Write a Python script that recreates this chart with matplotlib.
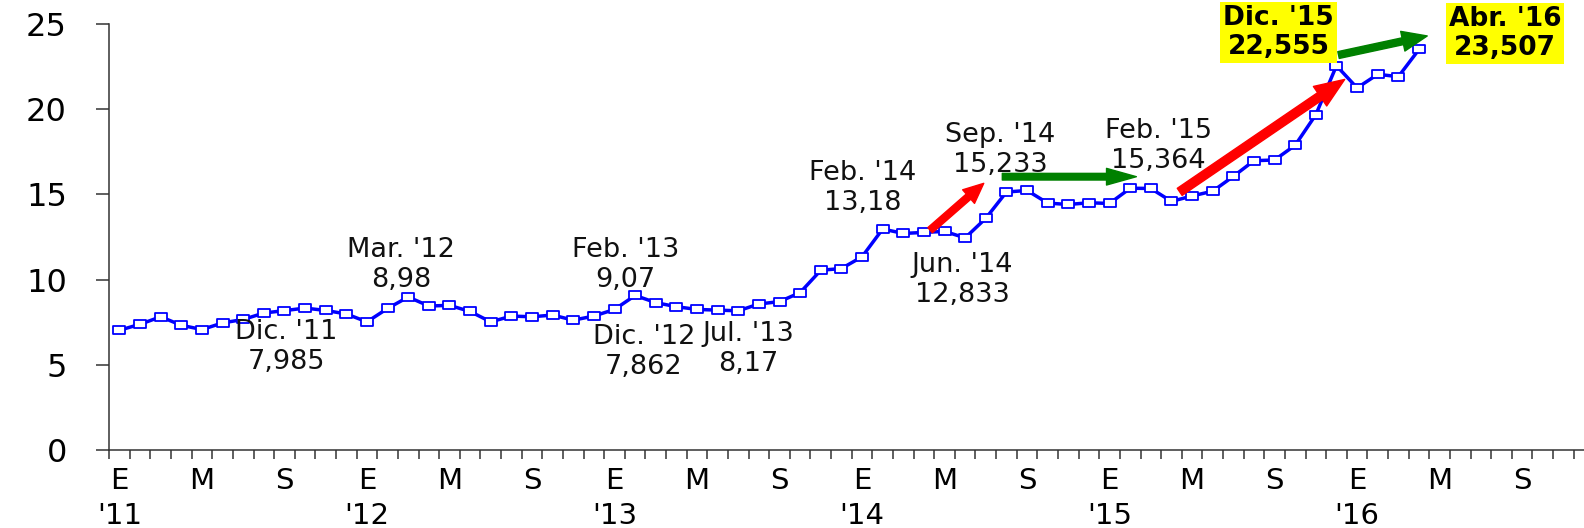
import numpy as np
import matplotlib.pyplot as plt
from matplotlib.path import Path
from matplotlib.patches import FancyArrowPatch

# monthly series, Jan 2011 .. Apr 2016
values = [7.03, 7.38, 7.82, 7.32, 7.07, 7.46, 7.66, 8.04, 8.18, 8.33, 8.19, 7.985,
          7.52, 8.31, 8.98, 8.45, 8.49, 8.13, 7.52, 7.86, 7.82, 7.92, 7.62, 7.862,
          8.25, 9.07, 8.65, 8.41, 8.25, 8.21, 8.17, 8.57, 8.71, 9.24, 10.55, 10.65,
          11.34, 12.97, 12.71, 12.77, 12.83, 12.45, 13.60, 15.14, 15.233, 14.49, 14.41, 14.51,
          14.47, 15.364, 15.35, 14.59, 14.91, 15.19, 16.06, 16.98, 17.02, 17.89, 19.68, 22.555,
          21.25, 22.05, 21.91, 23.507]
month_labels = ['E', 'M', 'S']
year_labels = ["'11", "'12", "'13", "'14", "'15", "'16"]

# annotated points: month index, text
notes_idx = [11, 14, 23, 25, 30, 37, 41, 44, 49]
notes_txt = ["Dic. '11\n7,985", "Mar. '12\n8,98", "Dic. '12\n7,862", "Feb. '13\n9,07",
             "Jul. '13\n8,17", "Feb. '14\n13,18", "Jun. '14\n12,833", "Sep. '14\n15,233",
             "Feb. '15\n15,364"]
notes_off = [(-60, -33), (-7, 32), (50, -36), (-10, 30), (10, -38), (-20, 41), (-3, -42),
             (-27, 40), (28, 42)]

boxes_idx = [59, 63]
boxes_txt = ["Dic. '15\n22,555", "Abr. '16\n23,507"]
boxes_off = [(-58, 33), (86, 16)]

# arrows: (x0, y0, x1, y1)
arrows = [(39.3, 12.9, 41.9, 15.65), (42.8, 16.04, 49.3, 16.04),
          (51.4, 15.15, 59.4, 21.75), (59.1, 23.18, 63.4, 24.3)]
arrow_colors = ['#ff0000', '#008000', '#ff0000', '#008000']
arrow_styles = ['simple,head_length=1.45,head_width=1.3,tail_width=0.5',
                'simple,head_length=2.15,head_width=1.2,tail_width=0.48',
                'simple,head_length=2.15,head_width=1.7,tail_width=0.62',
                'simple,head_length=1.8,head_width=1.45,tail_width=0.5']

plt.rcParams['font.family'] = ['DejaVu Sans']

fig = plt.figure(figsize=(15.84, 5.28), dpi=100)
ax = fig.add_axes([0.0689, 0.1477, 0.9311, 0.8068])

x = np.arange(len(values))
rect = Path([(-1.6, -1), (1.6, -1), (1.6, 1), (-1.6, 1), (-1.6, -1)],
            [Path.MOVETO, Path.LINETO, Path.LINETO, Path.LINETO, Path.CLOSEPOLY])
ax.plot(x, values, color='#0000ff', lw=2.5, marker=rect, ms=9, mfc='white',
        mec='#0000ff', mew=1.3, zorder=3, clip_on=False)

for (x0, y0, x1, y1), c, st in zip(arrows, arrow_colors, arrow_styles):
    ax.add_patch(FancyArrowPatch((x0, y0), (x1, y1), arrowstyle=st, mutation_scale=10,
                                 color=c, shrinkA=0, shrinkB=0, zorder=4))

for i, t, off in zip(notes_idx, notes_txt, notes_off):
    ax.annotate(t, xy=(i, values[i]), xytext=off, textcoords='offset pixels',
                ha='center', va='center', fontsize=19.5, linespacing=1.2, color='#111111')

for i, t, off in zip(boxes_idx, boxes_txt, boxes_off):
    ax.annotate(t, xy=(i, values[i]), xytext=off, textcoords='offset pixels',
                ha='center', va='center', fontsize=19, fontweight='bold', linespacing=1.12,
                bbox=dict(boxstyle='square,pad=0.12', fc='#ffff00', ec='none'), zorder=5)

ax.set_xlim(-0.5, 71.0)
ax.set_ylim(0, 25)

ticks = np.arange(0, 72, 4)
labels = []
for k in range(len(ticks)):
    lab = month_labels[k % 3]
    if k % 3 == 0:
        lab += '\n' + year_labels[k // 3]
    labels.append(lab)
ax.set_xticks(ticks)
ax.set_xticklabels(labels, fontsize=21, linespacing=1.32)
ax.set_xticks(np.arange(-0.5, 71, 1), minor=True)
ax.tick_params(axis='x', which='major', length=0, pad=12)
ax.tick_params(axis='x', which='minor', length=6.5, width=1.1, color='#333333')

ax.set_yticks(range(0, 26, 5))
ax.tick_params(axis='y', length=9.4, width=1.1, pad=21, labelsize=23, color='#333333')

for s in ['top', 'right']:
    ax.spines[s].set_visible(False)
for s in ['left', 'bottom']:
    ax.spines[s].set_linewidth(1.1)
    ax.spines[s].set_color('#333333')

fig.savefig('out.png', dpi=100)
